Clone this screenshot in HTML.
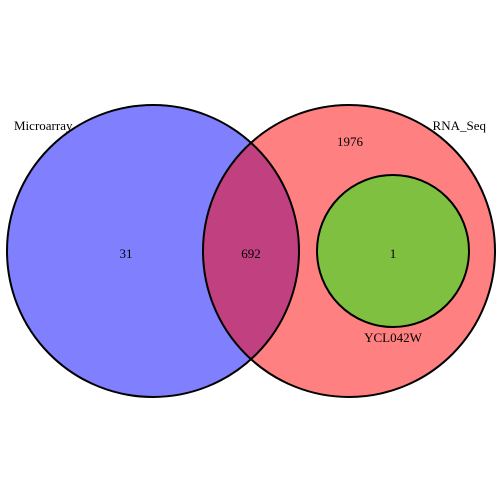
<!DOCTYPE html>
<html><head><meta charset="utf-8"><style>
html,body{margin:0;padding:0;background:#fff;}
svg{display:block;}
text{font-family:"Liberation Serif",serif;font-size:13px;fill:#000;}
</style></head><body>
<svg id="chart" width="504" height="504" xmlns="http://www.w3.org/2000/svg"></svg>
<script>
const setNames = ["Microarray", "RNA_Seq", "YCL042W"];
const regionLabels = ["31", "692", "1976", "1"];
const ns = "http://www.w3.org/2000/svg";
const svg = document.getElementById("chart");
const L = {cx:153, cy:251, r:146}, R = {cx:349, cy:251, r:146}, G = {cx:393, cy:251, r:76};
function mk(tag, attrs){const e=document.createElementNS(ns,tag);for(const k in attrs)e.setAttribute(k,attrs[k]);return e;}
const defs = mk("defs",{});
const cp = mk("clipPath",{id:"clipL"});
cp.appendChild(mk("circle",{cx:L.cx,cy:L.cy,r:L.r}));
defs.appendChild(cp); svg.appendChild(defs);
let c = mk("circle",{cx:L.cx,cy:L.cy,r:L.r,fill:"#8080ff"});


svg.appendChild(c);
c = mk("circle",{cx:R.cx,cy:R.cy,r:R.r,fill:"#ff8080"});


svg.appendChild(c);
c = mk("circle",{cx:R.cx,cy:R.cy,r:R.r,fill:"#c04080","clip-path":"url(#clipL)"});


svg.appendChild(c);
c = mk("circle",{cx:G.cx,cy:G.cy,r:G.r,fill:"#80c040"});


svg.appendChild(c);
[L,R,G].forEach(o=>{const b=mk("circle",{cx:o.cx,cy:o.cy,r:o.r,fill:"none",stroke:"#000","stroke-width":2});


svg.appendChild(b);});
function txt(s,x,y,anchor,name){const t=mk("text",{x:x,y:y,"text-anchor":anchor});t.textContent=s;


svg.appendChild(t);}
txt(setNames[0],14,130,"start","set-label-microarray");
txt(setNames[1],486,130,"end","set-label-rna-seq");
txt(setNames[2],G.cx,342,"middle","set-label-ycl042w");
txt(regionLabels[0],126,258,"middle","count-microarray-only");
txt(regionLabels[1],251,258,"middle","count-overlap");
txt(regionLabels[2],350,146,"middle","count-rna-seq-only");
txt(regionLabels[3],G.cx,258,"middle","count-ycl042w");
</script>
</body></html>
